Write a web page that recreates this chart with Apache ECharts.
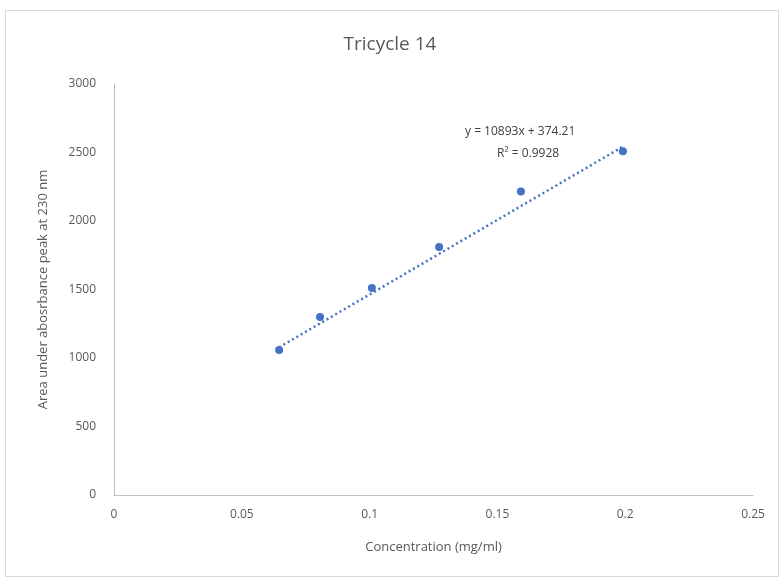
<!DOCTYPE html>
<html>
<head>
<meta charset="utf-8">
<script src="https://cdn.jsdelivr.net/npm/echarts@6/dist/echarts.min.js"></script>
<style>
html,body{margin:0;padding:0;background:#fff;}
#frame{position:absolute;left:5px;top:10px;width:774px;height:567px;border:1px solid #d9d9d9;box-sizing:border-box;}
#chart{position:absolute;left:0;top:0;width:780px;height:578px;}
</style>
</head>
<body>
<div id="frame"></div>
<div id="chart"></div>
<script>
const concentration = [0.0646, 0.0806, 0.1009, 0.1272, 0.1592, 0.1991];
const area = [1058, 1299, 1511, 1810, 2216, 2510];
const trendX = [0.0646, 0.1991];
const trendY = [1078, 2543];
const equationText = ['y = 10893x + 374.21', 'R² = 0.9928'];
const xTicks = [0, 0.05, 0.1, 0.15, 0.2, 0.25];
const yTicks = [0, 500, 1000, 1500, 2000, 2500, 3000];

const font = '"Open Sans", "Noto Sans", sans-serif';
const chart = echarts.init(document.getElementById('chart'));
chart.setOption({
  backgroundColor: 'transparent',
  animation: false,
  title: {
    text: 'Tricycle 14', left: 'center', top: 30,
    textStyle: {color: '#595959', fontSize: 19, fontWeight: 'normal', fontFamily: font}
  },
  grid: {left: 114, right: 27, top: 84, bottom: 83},
  xAxis: {
    type: 'value', min: xTicks[0], max: xTicks[xTicks.length-1], interval: 0.05,
    name: 'Concentration (mg/ml)', nameLocation: 'middle', nameGap: 46,
    nameTextStyle: {color: '#595959', fontSize: 13, fontFamily: font},
    axisLine: {show: true, lineStyle: {color: '#bfbfbf', width: 1}},
    axisTick: {show: false}, splitLine: {show: false},
    axisLabel: {color: '#595959', fontSize: 12, fontFamily: font, margin: 14, formatter: v => String(v)}
  },
  yAxis: {
    type: 'value', min: yTicks[0], max: yTicks[yTicks.length-1], interval: 500,
    name: 'Area under abosrbance peak at 230 nm', nameLocation: 'middle', nameGap: 64,
    nameTextStyle: {color: '#595959', fontSize: 13, fontFamily: font},
    axisLine: {show: true, lineStyle: {color: '#bfbfbf', width: 1}},
    axisTick: {show: false}, splitLine: {show: false},
    axisLabel: {color: '#595959', fontSize: 12, fontFamily: font, margin: 18, formatter: v => String(v)}
  },
  series: [
    {
      type: 'line', data: trendX.map((x, i) => [x, trendY[i]]),
      symbol: 'none', lineStyle: {color: '#4472C4', width: 2.5, type: [2, 3]}, z: 1
    },
    {
      type: 'scatter', data: concentration.map((x, i) => [x, area[i]]),
      symbol: 'circle', symbolSize: 8, itemStyle: {color: '#4472C4', opacity: 1}, z: 2
    }
  ],
  graphic: [
    {type: 'text', left: 465, top: 126, style: {text: equationText[0], fill: '#404040', font: '12px ' + font}},
    {type: 'text', left: 497, top: 148, style: {text: equationText[1], fill: '#404040', font: '12px ' + font}}
  ]
});
</script>
</body>
</html>
